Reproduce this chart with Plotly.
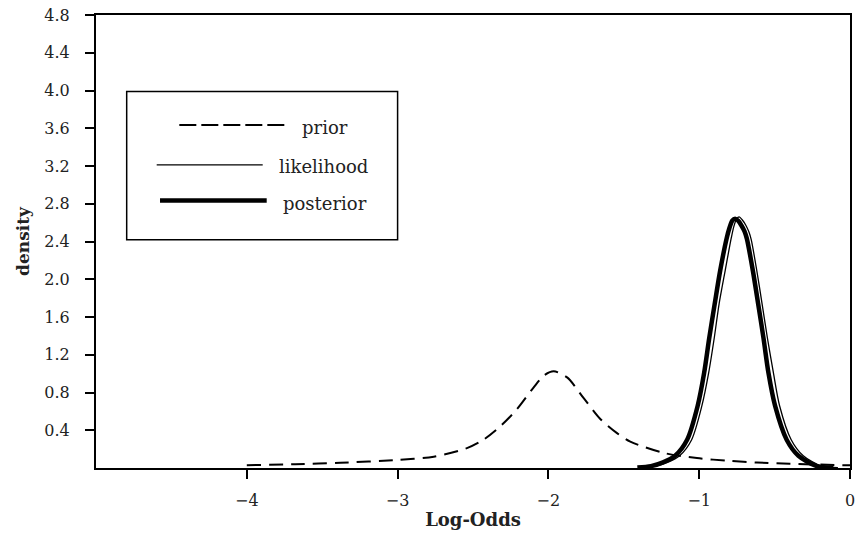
import plotly.graph_objects as go

# ---- data ----
prior_x = [-4.0, -3.68, -3.38, -3.0, -2.76, -2.54, -2.43, -2.32, -2.21, -2.10, -2.03,
           -1.965, -1.876, -1.766, -1.656, -1.545, -1.457, -1.236, -1.015, -0.795,
           -0.618, -0.4, 0.0]
prior_y = [0.03, 0.04, 0.055, 0.085, 0.12, 0.21, 0.30, 0.44, 0.62, 0.85, 0.98,
           1.025, 0.96, 0.74, 0.52, 0.37, 0.28, 0.16, 0.105, 0.075,
           0.058, 0.045, 0.028]

likelihood_x = [-1.38, -1.29, -1.21, -1.13, -1.05, -0.982, -0.937, -0.90, -0.868, -0.828,
                -0.787, -0.77, -0.752, -0.735, -0.715, -0.69, -0.67, -0.655, -0.618,
                -0.583, -0.548, -0.508, -0.467, -0.39, -0.31, -0.19, -0.08]
likelihood_y = [0.005, 0.02, 0.06, 0.13, 0.30, 0.66, 1.01, 1.38, 1.74, 2.09,
                2.44, 2.56, 2.64, 2.66, 2.63, 2.57, 2.50, 2.42, 2.09,
                1.74, 1.38, 1.01, 0.66, 0.30, 0.13, 0.02, 0.005]

posterior_x = [-1.41, -1.32, -1.24, -1.16, -1.08, -1.01, -0.967, -0.934, -0.898, -0.861,
               -0.817, -0.80, -0.781, -0.762, -0.742, -0.72, -0.70, -0.684, -0.644,
               -0.609, -0.574, -0.541, -0.497, -0.42, -0.342, -0.22, -0.11]
posterior_y = [0.005, 0.02, 0.06, 0.13, 0.30, 0.66, 1.01, 1.37, 1.73, 2.09,
               2.44, 2.54, 2.62, 2.64, 2.62, 2.57, 2.51, 2.43, 2.09,
               1.74, 1.38, 1.01, 0.66, 0.30, 0.13, 0.02, 0.005]

x_tickvals = [-4, -3, -2, -1, 0]
x_ticktext = ["\u22124", "\u22123", "\u22122", "\u22121", "0"]
y_tickvals = [0.4, 0.8, 1.2, 1.6, 2.0, 2.4, 2.8, 3.2, 3.6, 4.0, 4.4, 4.8]
y_ticktext = ["0.4", "0.8", "1.2", "1.6", "2.0", "2.4", "2.8", "3.2", "3.6", "4.0", "4.4", "4.8"]

series_names = ["prior", "likelihood", "posterior"]

FONT = "DejaVu Serif"

fig = go.Figure()
fig.add_trace(go.Scatter(x=prior_x, y=prior_y, mode="lines", name=series_names[0],
                         line=dict(color="black", width=2, dash="14px,8px", shape="spline", smoothing=0.8)))
fig.add_trace(go.Scatter(x=likelihood_x, y=likelihood_y, mode="lines", name=series_names[1],
                         line=dict(color="black", width=1.3, shape="spline", smoothing=0.8)))
fig.add_trace(go.Scatter(x=posterior_x, y=posterior_y, mode="lines", name=series_names[2],
                         line=dict(color="black", width=4.5, shape="spline", smoothing=0.8)))

axis_common = dict(showline=True, linewidth=2, linecolor="black", mirror=True,
                   ticks="outside", ticklen=9, tickwidth=2, tickcolor="black",
                   showgrid=False, zeroline=False, automargin=False,
                   ticklabeloverflow="allow",
                   tickfont=dict(family=FONT, size=16, color="#222"))

fig.update_xaxes(range=[-5, 0], tickmode="array", tickvals=x_tickvals, ticktext=x_ticktext,
                 title=dict(text="Log-Odds", font=dict(family=FONT, size=18, color="#222", weight="bold"),
                            standoff=4),
                 ticklabelstandoff=8, **axis_common)
fig.update_yaxes(range=[0, 4.8], tickmode="array", tickvals=y_tickvals, ticktext=y_ticktext,
                 title=dict(text="density", font=dict(family=FONT, size=17, color="#222", weight="bold"),
                            standoff=10),
                 ticklabelstandoff=12, **axis_common)

# custom legend box (paper coordinates)
shapes = [
    dict(type="rect", xref="paper", yref="paper", x0=0.0407, x1=0.400, y0=0.504, y1=0.831,
         line=dict(color="black", width=1.5), fillcolor="white", layer="above"),
    dict(type="line", xref="paper", yref="paper", x0=0.1105, x1=0.2498, y0=0.7574, y1=0.7574,
         line=dict(color="black", width=2, dash="17px,5px"), layer="above"),
    dict(type="line", xref="paper", yref="paper", x0=0.0805, x1=0.2211, y0=0.6692, y1=0.6692,
         line=dict(color="black", width=1.3), layer="above"),
    dict(type="line", xref="paper", yref="paper", x0=0.0849, x1=0.2264, y0=0.5905, y1=0.5905,
         line=dict(color="black", width=4.5), layer="above"),
]
annotations = [
    dict(text=series_names[0], xref="paper", yref="paper", x=0.2705, y=0.7508,
         xanchor="left", yanchor="middle", showarrow=False,
         font=dict(family=FONT, size=18, color="#222")),
    dict(text=series_names[1], xref="paper", yref="paper", x=0.2405, y=0.6648,
         xanchor="left", yanchor="middle", showarrow=False,
         font=dict(family=FONT, size=18, color="#222")),
    dict(text=series_names[2], xref="paper", yref="paper", x=0.2458, y=0.5832,
         xanchor="left", yanchor="middle", showarrow=False,
         font=dict(family=FONT, size=18, color="#222")),
]

fig.update_layout(width=855, height=536, showlegend=False,
                  plot_bgcolor="white", paper_bgcolor="white",
                  margin=dict(l=96, r=5, t=15, b=68),
                  shapes=shapes, annotations=annotations)

fig.write_html("out.html", config={"displayModeBar": False},
               post_script="document.body.style.margin='0';document.body.style.overflow='hidden';")
